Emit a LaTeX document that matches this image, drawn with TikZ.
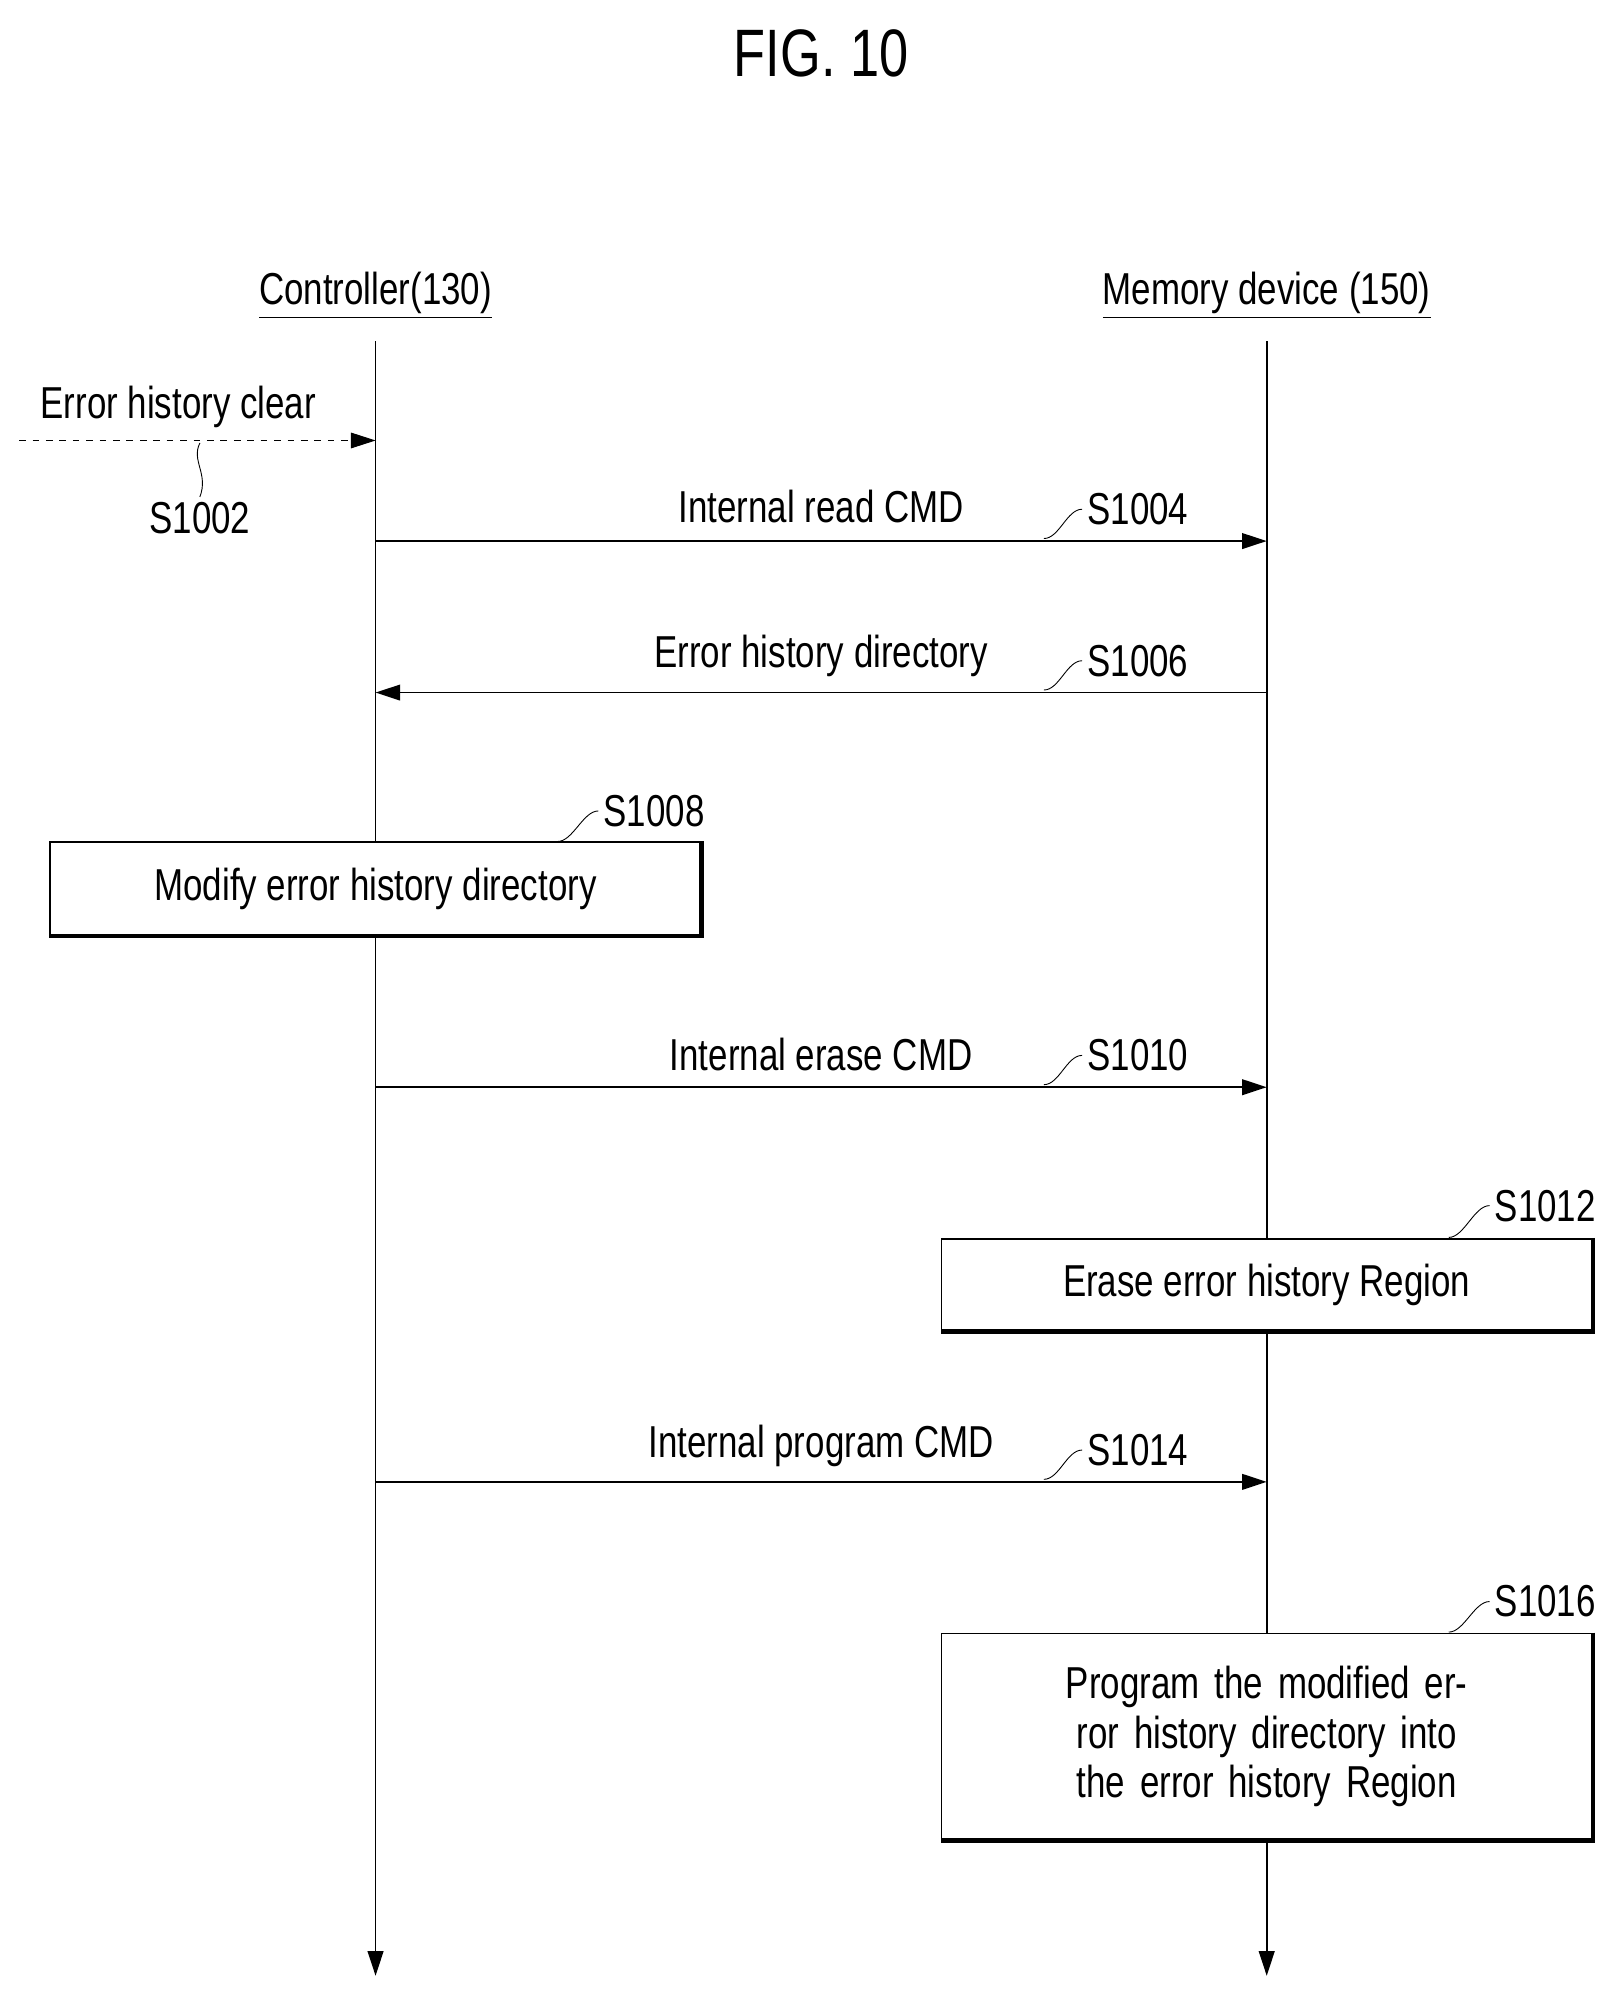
\documentclass[tikz,border=0pt]{standalone}
\usepackage{fontspec}
\setmainfont{Liberation Sans}[FakeStretch=0.78]
\usetikzlibrary{arrows.meta, positioning}

% small wavy leader from a step label to its item
\newcommand{\leader}[2]{\draw[thin] #1 .. controls +(12,0) and +(-12,0) .. #2;}

\begin{document}
\begin{tikzpicture}[x=0.02cm, y=-0.02cm, >={Triangle[length=11pt,width=7pt]}, thick,
    lbl/.style={font=\fontsize{20}{22}\selectfont, inner sep=2pt},
    steplbl/.style={lbl, anchor=west},
    box/.style={draw, lbl, minimum width=10.22cm, align=center, inner sep=4pt}]
      \useasboundingbox (0,0) rectangle (1275,1571);

      % --- Title and lifeline heads ---
      \node[font=\fontsize{30}{34}\selectfont] (title) at (645,42) {FIG. 10};
      \node[lbl] (ctrl) at (295,232) {\underline{Controller(130)}};
      \node[lbl] (mem) at (995,232) {\underline{Memory device (150)}};

      % --- Lifelines ---
      \coordinate (ctrltop) at (295,268);
      \coordinate (ctrlend) at (295,1552);
      \coordinate (memtop) at (995,268);
      \coordinate (memend) at (995,1552);
      \draw[->] (ctrltop) -- (ctrlend);
      \draw[->] (memtop) -- (memend);

      % --- S1002 ---
      \coordinate (clrstart) at (15,346);
      \coordinate (clrend) at (295,346);
      \draw[dashed, thin, ->] (clrstart) -- (clrend);
      \node[lbl] (clr) at (140,320) {Error history clear};
      \node[lbl] (s1002) at (157,407) {S1002};
      \draw[thin] (157,348) .. controls (150,362) and (164,372) .. (s1002.north);

      % --- Messages ---
      \foreach \y/\name/\txt/\ty/\sy in {425/s1004/Internal read CMD/398/400,
          544/s1006/Error history directory/515/519,
          854/s1010/Internal erase CMD/828/829,
          1164/s1014/Internal program CMD/1136/1139}{
        \coordinate (\name c) at (295,\y);
        \coordinate (\name m) at (995,\y);
        \node[lbl] (\name t) at (645,\ty) {\txt};
        \node[steplbl] (\name) at (850,\sy) {\MakeUppercase{\name}};
        \leader{(820,\y-2)}{(\name.west)}
      }
      \draw[->] (s1004c) -- (s1004m);
      \draw[->] (s1006m) -- (s1006c);
      \draw[->] (s1010c) -- (s1010m);
      \draw[->] (s1014c) -- (s1014m);

      % --- Boxes ---
      \node[box, minimum height=1.46cm, fill=white] (modify) at (295,698) {Modify error history directory};
      \draw[line width=2pt] (modify.north east) -- (modify.south east) -- (modify.south west);
      \node[steplbl] (s1008) at (470,637) {S1008};
      \leader{(438,661)}{(s1008.west)}

      \node[box, minimum height=1.44cm, fill=white] (erase) at (995,1009) {Erase error history Region};
      \draw[line width=2pt] (erase.north east) -- (erase.south east) -- (erase.south west);
      \node[steplbl] (s1012) at (1170,947) {S1012};
      \leader{(1138,972)}{(s1012.west)}

      \node[box, minimum height=3.24cm, fill=white, text width=9cm] (prog) at (995,1364)
        {Program the modified error history directory into the error history Region};
      \draw[line width=2pt] (prog.north east) -- (prog.south east) -- (prog.south west);
      \node[steplbl] (s1016) at (1170,1258) {S1016};
      \leader{(1138,1282)}{(s1016.west)}
\end{tikzpicture}
\end{document}
